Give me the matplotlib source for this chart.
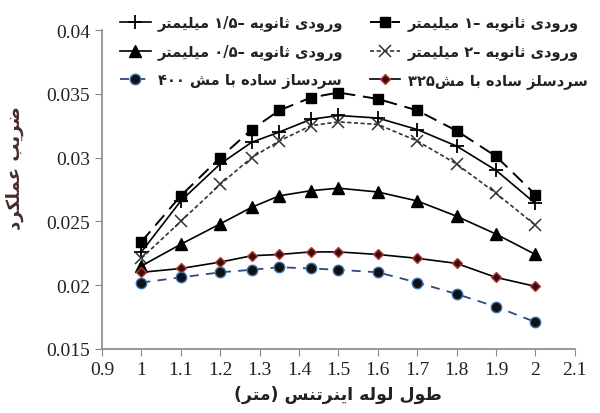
import matplotlib
matplotlib.use("Agg")
import matplotlib.pyplot as plt
from matplotlib.ticker import FuncFormatter
import numpy as np

# data
tube_length = [1.0, 1.1, 1.2, 1.28, 1.35, 1.43, 1.5, 1.6, 1.7, 1.8, 1.9, 2.0]
cop_1mm   = [0.0234, 0.0270, 0.0300, 0.0322, 0.0337, 0.0347, 0.0351, 0.0346, 0.0337, 0.0321, 0.0301, 0.0271]
cop_1_5mm = [0.0226, 0.0266, 0.0295, 0.0312, 0.0320, 0.0330, 0.0333, 0.0331, 0.0322, 0.0309, 0.0290, 0.0264]
cop_2mm   = [0.0221, 0.0250, 0.0279, 0.0300, 0.0313, 0.0325, 0.0328, 0.0326, 0.0313, 0.0295, 0.0272, 0.0247]
cop_0_5mm = [0.0215, 0.0232, 0.0248, 0.0261, 0.0270, 0.0274, 0.0276, 0.0273, 0.0266, 0.0254, 0.0240, 0.0224]
cop_m325  = [0.0210, 0.0213, 0.0218, 0.0223, 0.0224, 0.0226, 0.0226, 0.0224, 0.0221, 0.0217, 0.0206, 0.0199]
cop_m400  = [0.0202, 0.0206, 0.0210, 0.0212, 0.0214, 0.0213, 0.0212, 0.0210, 0.0202, 0.0193, 0.0183, 0.0171]

labels = {
    "1mm": "ورودی ثانویه –۱ میلیمتر",
    "1_5mm": "ورودی ثانویه –۱/۵ میلیمتر",
    "2mm": "ورودی ثانویه –۲ میلیمتر",
    "0_5mm": "ورودی ثانویه –۰/۵ میلیمتر",
    "m325": "سردسلز ساده با مش۳۲۵",
    "m400": "سردساز ساده با مش ۴۰۰",
}
x_title = "طول لوله اینرتنس (متر)"
y_title = "ضریب عملکرد"

# --- minimal persian shaping (matplotlib has no bidi / shaping) ---
FORMS = {
    'ا': ('\uFE8D', '\uFE8E', None, None),
    'ب': ('\uFE8F', '\uFE90', '\uFE91', '\uFE92'),
    'ت': ('\uFE95', '\uFE96', '\uFE97', '\uFE98'),
    'ث': ('\uFE99', '\uFE9A', '\uFE9B', '\uFE9C'),
    'د': ('\uFEA9', '\uFEAA', None, None),
    'ر': ('\uFEAD', '\uFEAE', None, None),
    'ز': ('\uFEAF', '\uFEB0', None, None),
    'س': ('\uFEB1', '\uFEB2', '\uFEB3', '\uFEB4'),
    'ش': ('\uFEB5', '\uFEB6', '\uFEB7', '\uFEB8'),
    'ض': ('\uFEBD', '\uFEBE', '\uFEBF', '\uFEC0'),
    'ط': ('\uFEC1', '\uFEC2', '\uFEC3', '\uFEC4'),
    'ع': ('\uFEC9', '\uFECA', '\uFECB', '\uFECC'),
    'ل': ('\uFEDD', '\uFEDE', '\uFEDF', '\uFEE0'),
    'م': ('\uFEE1', '\uFEE2', '\uFEE3', '\uFEE4'),
    'ن': ('\uFEE5', '\uFEE6', '\uFEE7', '\uFEE8'),
    'ه': ('\uFEE9', '\uFEEA', '\uFEEB', '\uFEEC'),
    'و': ('\uFEED', '\uFEEE', None, None),
    'ی': ('\uFBFC', '\uFBFD', '\uFBFE', '\uFBFF'),
    'ک': ('\uFB8E', '\uFB8F', '\uFB90', '\uFB91'),
}
NUM_CHARS = set('۰۱۲۳۴۵۶۷۸۹0123456789')
MIRROR = {'(': ')', ')': '('}


def fa(text):
    glyphs = []
    for i, ch in enumerate(text):
        if ch not in FORMS:
            glyphs.append(ch)
            continue
        prev = text[i - 1] if i > 0 else ''
        nxt = text[i + 1] if i + 1 < len(text) else ''
        iso, fin, ini, med = FORMS[ch]
        join_prev = prev in FORMS and FORMS[prev][2] is not None
        join_next = nxt in FORMS and ini is not None
        if join_prev and join_next:
            glyphs.append(med)
        elif join_prev:
            glyphs.append(fin)
        elif join_next:
            glyphs.append(ini)
        else:
            glyphs.append(iso)
    # keep number runs left-to-right, reverse the rest for display
    tokens = []
    for g in glyphs:
        in_num = g in NUM_CHARS or g == '/'
        if in_num and tokens and tokens[-1][-1] in NUM_CHARS | {'/'}:
            tokens[-1] += g
        else:
            tokens.append(g)
    return ''.join(MIRROR.get(t, t) for t in reversed(tokens))


plt.rcParams['font.family'] = ['Liberation Serif', 'DejaVu Sans']
fig = plt.figure(figsize=(6.0, 4.14), dpi=100)
ax = fig.add_axes([0.17, 0.155, 0.788, 0.77])

fa_font = dict(family=['DejaVu Sans'], weight='bold')

h_1mm, = ax.plot(tube_length, cop_1mm, color='black', lw=1.4, dashes=(7, 4),
                 marker='s', ms=7, label=fa(labels["1mm"]))
h_15, = ax.plot(tube_length, cop_1_5mm, color='black', lw=1.2,
                marker='+', ms=10, mew=1.3, label=fa(labels["1_5mm"]))
h_2mm, = ax.plot(tube_length, cop_2mm, color='#333333', lw=1.2, dashes=(2.5, 1.5),
                 marker='x', ms=8, mew=1.1, label=fa(labels["2mm"]))
h_05, = ax.plot(tube_length, cop_0_5mm, color='black', lw=1.2,
                marker='^', ms=8, label=fa(labels["0_5mm"]))
h_325, = ax.plot(tube_length, cop_m325, color='black', lw=1.2,
                 marker='D', ms=5.5, mfc='#3a0d0d', mec='#b53a3a', mew=1.0, label=fa(labels["m325"]))
h_400, = ax.plot(tube_length, cop_m400, color='#2d4a7c', lw=1.3, dashes=(5, 4),
                 marker='o', ms=7.5, mfc='#111111', mec='#3d6fb0', mew=1.0, label=fa(labels["m400"]))

ax.set_xlim(0.9, 2.1)
ax.set_ylim(0.015, 0.04)
ax.set_xticks(np.round(np.arange(0.9, 2.15, 0.1), 2))
ax.set_yticks(np.round(np.arange(0.015, 0.0401, 0.005), 3))
ax.xaxis.set_major_formatter(FuncFormatter(lambda v, p: f"{v:g}"))
ax.yaxis.set_major_formatter(FuncFormatter(lambda v, p: f"{v:g}"))
ax.tick_params(labelsize=14, length=5, color='#888888', labelcolor='#222222', direction='out')
for side in ['top', 'right']:
    ax.spines[side].set_visible(False)
for side in ['left', 'bottom']:
    ax.spines[side].set_color('#888888')
    ax.spines[side].set_linewidth(1.2)

ax.set_xlabel(fa(x_title), fontsize=12.5, color='#222222', labelpad=5, **fa_font)
fig.text(0.025, 0.595, fa(y_title), rotation=90, fontsize=13, color='#4a2a2a',
         ha='center', va='center', **fa_font)

leg_kw = dict(frameon=False, prop=dict(family=['DejaVu Sans'], weight='bold', size=10.5),
              handlelength=2.1, handletextpad=0.5, labelspacing=0.85, borderpad=0,
              loc='upper left', bbox_transform=fig.transFigure, labelcolor='#222222')
leg_left = fig.legend(handles=[h_15, h_05, h_400], bbox_to_anchor=(0.188, 0.978), **leg_kw)
leg_right = fig.legend(handles=[h_1mm, h_2mm, h_325], bbox_to_anchor=(0.604, 0.978), **leg_kw)

fig.savefig("out.png", dpi=100)
